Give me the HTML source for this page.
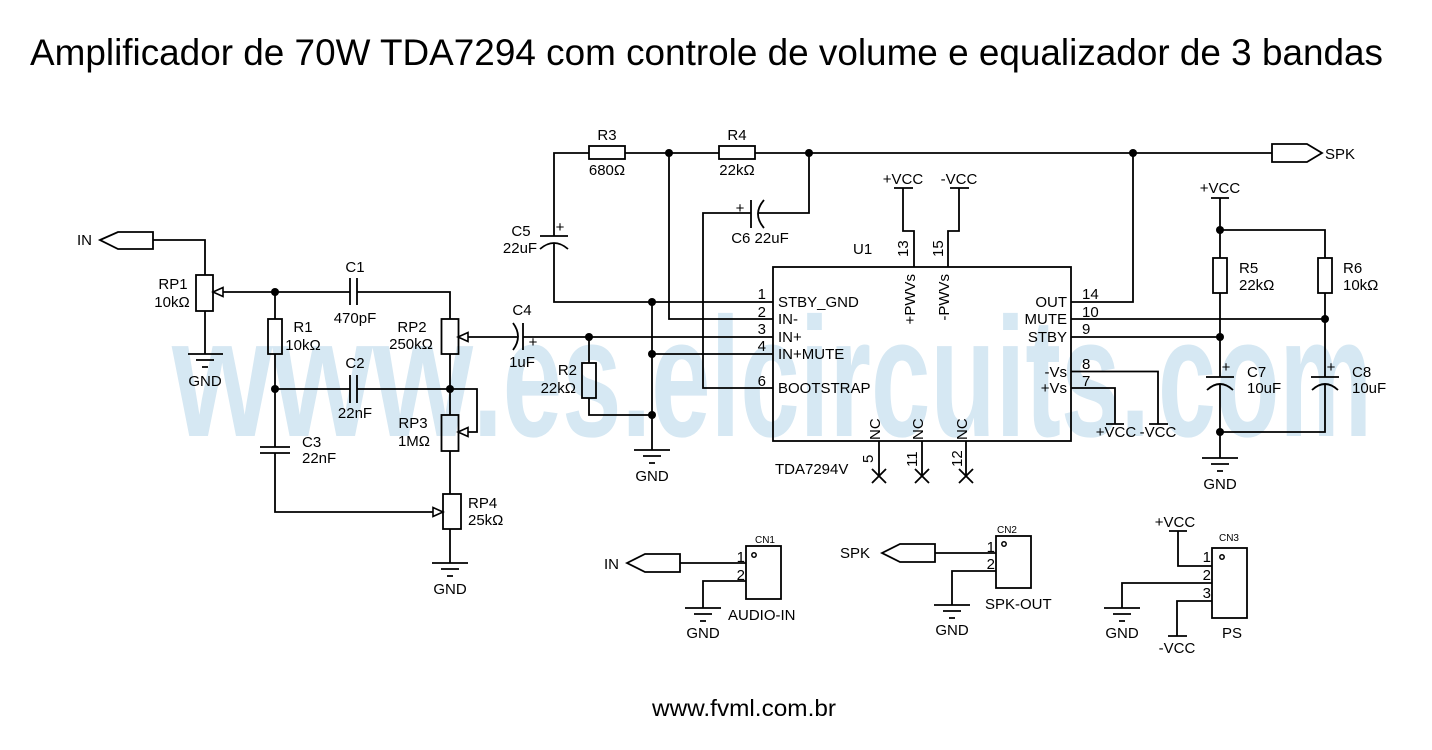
<!DOCTYPE html>
<html><head><meta charset="utf-8"><style>
html,body{margin:0;padding:0;background:#fff;}
svg{display:block;}
</style></head><body>
<svg width="1432" height="750" viewBox="0 0 1432 750" xmlns="http://www.w3.org/2000/svg" font-family="'Liberation Sans', Arial, sans-serif">
<rect width="1432" height="750" fill="#fff"/>
<!-- watermark -->
<g fill="#d6e8f3" font-weight="bold" font-size="170">
<text x="172" y="436" textLength="301" lengthAdjust="spacingAndGlyphs">www</text>
<text x="473" y="436" textLength="677" lengthAdjust="spacingAndGlyphs">.es.elcircuits.</text>
<text x="1158" y="436" textLength="214" lengthAdjust="spacingAndGlyphs">com</text>
</g>
<!-- title -->
<text x="30" y="65" font-size="37" fill="#000" textLength="1353" lengthAdjust="spacingAndGlyphs">Amplificador de 70W TDA7294 com controle de volume e equalizador de 3 bandas</text>

<g stroke="#000" stroke-width="1.8" fill="none">
<!-- left IN connector -->
<polygon points="100,240 118,232 153,232 153,249 118,249"/>
<path d="M153,240 H205 V275"/>
<rect x="196" y="275" width="17" height="36"/>
<path d="M205,311 V354"/>
<path d="M188,354 H223 M196,360 H214 M202,367 H208"/>
<path d="M223,292 H350"/>
<path d="M350,278 V305 M357,278 V305"/>
<path d="M357,292 H450 V319"/>
<rect x="441.5" y="319" width="17" height="35"/>
<path d="M275,292 V319"/>
<rect x="268" y="319" width="14" height="35"/>
<path d="M275,354 V447"/>
<path d="M260,447 H290 M260,453 H290"/>
<path d="M275,453 V512 H433"/>
<path d="M275,389 H350 M350,375 V403 M357,375 V403 M357,389 H477 V432 H468"/>
<path d="M450,354 V415"/>
<rect x="441.5" y="415" width="17" height="36"/>
<path d="M450,451 V494"/>
<rect x="443" y="494" width="18" height="35"/>
<path d="M450,529 V563"/>
<path d="M432,563 H468 M441,569 H459 M447,576 H453"/>
<!-- RP2 wiper / C4 -->
<path d="M468,337 H517"/>
<path d="M513,323 Q523,336.5 513,350"/>
<path d="M523,323 V350"/>
<path d="M523,337 H773"/>
<!-- R2 -->
<path d="M589,337 V363"/>
<rect x="582" y="363" width="14" height="35"/>
<path d="M589,398 V415 H652"/>
<path d="M652,302 V450"/>
<path d="M634,450 H670 M643,456 H661 M649,463 H655"/>
<!-- C5 -->
<path d="M554,236 V153 H589"/>
<path d="M540,236 H568"/>
<path d="M540,249 Q554,237 568,249"/>
<path d="M554,243 V302 H773"/>
<!-- R3 R4 -->
<rect x="589" y="146" width="36" height="13"/>
<path d="M625,153 H719"/>
<rect x="719" y="146" width="36" height="13"/>
<path d="M755,153 H1272"/>
<path d="M669,153 V319 H773"/>
<!-- C6 -->
<path d="M809,153 V213 H758"/>
<path d="M764,200 Q752,214 764,228"/>
<path d="M751,200 V228"/>
<path d="M751,213 H703 V388 H773"/>
<path d="M652,354 H773"/>
<!-- IC -->
<rect x="773" y="267" width="298" height="174"/>
<path d="M914,267 V231 H903 V188 M894,188 H913"/>
<path d="M948,267 V231 H959 V188 M950,188 H969"/>
<path d="M879,441 V476 M872,469 L886,483 M886,469 L872,483"/>
<path d="M922,441 V476 M915,469 L929,483 M929,469 L915,483"/>
<path d="M966,441 V476 M959,469 L973,483 M973,469 L959,483"/>
<!-- right side -->
<path d="M1071,302 H1133 V153"/>
<path d="M1071,319 H1325"/>
<path d="M1071,337 H1220"/>
<path d="M1071,371.5 H1158 V424 M1149,424 H1168"/>
<path d="M1071,388 H1115 V424 M1106,424 H1124"/>
<path d="M1211,198 H1229 M1220,198 V258"/>
<rect x="1213" y="258" width="14" height="35"/>
<path d="M1220,293 V377 M1206,377 H1234"/>
<path d="M1207,390 Q1220,378 1233,390"/>
<path d="M1220,384 V458"/>
<path d="M1220,230 H1325 V258"/>
<rect x="1318" y="258" width="14" height="35"/>
<path d="M1325,293 V377 M1311,377 H1339"/>
<path d="M1312,390 Q1325,378 1338,390"/>
<path d="M1325,384 V432 H1220"/>
<path d="M1202,458 H1238 M1211,464 H1229 M1217,471 H1223"/>
<polygon points="1272,144 1307,144 1322,153 1307,162 1272,162"/>
<!-- CN1 -->
<polygon points="627,563 645,554 680,554 680,572 645,572"/>
<path d="M680,563 H746"/>
<rect x="746" y="546" width="35" height="53"/>
<circle cx="754" cy="555" r="2.2" stroke-width="1.5"/>
<path d="M746,581 H703 V608"/>
<path d="M685,608 H721 M694,614 H712 M700,621 H706"/>
<!-- CN2 -->
<polygon points="882,553 900,544 935,544 935,562 900,562"/>
<path d="M935,553 H996"/>
<rect x="996" y="536" width="35" height="52"/>
<circle cx="1004" cy="544" r="2.2" stroke-width="1.5"/>
<path d="M996,571 H952 V605"/>
<path d="M934,605 H970 M943,611 H961 M949,618 H955"/>
<!-- CN3 -->
<path d="M1169,531 H1187 M1178,531 V566 H1212"/>
<rect x="1212" y="548" width="35" height="70"/>
<circle cx="1222" cy="557" r="2.2" stroke-width="1.5"/>
<path d="M1212,583 H1122 V608"/>
<path d="M1104,608 H1140 M1113,614 H1131 M1119,621 H1125"/>
<path d="M1212,601 H1177 V636 M1168,636 H1187"/>
</g>
<!-- wiper arrows -->
<g stroke="#000" stroke-width="1.6" fill="#fff">
<polygon points="213,292 223,287.5 223,296.5"/>
<polygon points="458,337 468,332.5 468,341.5"/>
<polygon points="458,432 468,427.5 468,436.5"/>
<polygon points="443,512 433,507.5 433,516.5"/>
</g>
<!-- junctions -->
<g fill="#000">
<circle cx="275" cy="292" r="4"/><circle cx="275" cy="389" r="4"/><circle cx="450" cy="389" r="4"/>
<circle cx="589" cy="337" r="4"/><circle cx="652" cy="302" r="4"/><circle cx="652" cy="354" r="4"/>
<circle cx="652" cy="415" r="4"/><circle cx="669" cy="153" r="4"/><circle cx="809" cy="153" r="4"/>
<circle cx="1133" cy="153" r="4"/><circle cx="1220" cy="230" r="4"/><circle cx="1325" cy="319" r="4"/>
<circle cx="1220" cy="337" r="4"/><circle cx="1220" cy="432" r="4"/>
</g>
<!-- labels -->
<g fill="#000" font-size="15">
<text x="77" y="245">IN</text>
<text x="173" y="289" text-anchor="middle">RP1</text>
<text x="172" y="307" text-anchor="middle">10kΩ</text>
<text x="205" y="386" text-anchor="middle">GND</text>
<text x="355" y="272" text-anchor="middle">C1</text>
<text x="355" y="323" text-anchor="middle">470pF</text>
<text x="303" y="332" text-anchor="middle">R1</text>
<text x="303" y="350" text-anchor="middle">10kΩ</text>
<text x="412" y="332" text-anchor="middle">RP2</text>
<text x="411" y="349" text-anchor="middle">250kΩ</text>
<text x="355" y="368" text-anchor="middle">C2</text>
<text x="355" y="418" text-anchor="middle">22nF</text>
<text x="413" y="428" text-anchor="middle">RP3</text>
<text x="414" y="446" text-anchor="middle">1MΩ</text>
<text x="302" y="447">C3</text>
<text x="302" y="463">22nF</text>
<text x="468" y="508">RP4</text>
<text x="468" y="525">25kΩ</text>
<text x="450" y="594" text-anchor="middle">GND</text>
<text x="522" y="315" text-anchor="middle">C4</text>
<text x="522" y="367" text-anchor="middle">1uF</text>
<text x="533" y="347" text-anchor="middle">+</text>
<text x="577" y="375" text-anchor="end">R2</text>
<text x="576" y="393" text-anchor="end">22kΩ</text>
<text x="652" y="481" text-anchor="middle">GND</text>
<text x="521" y="236" text-anchor="middle">C5</text>
<text x="520" y="253" text-anchor="middle">22uF</text>
<text x="560" y="232" text-anchor="middle">+</text>
<text x="607" y="140" text-anchor="middle">R3</text>
<text x="607" y="175" text-anchor="middle">680Ω</text>
<text x="737" y="140" text-anchor="middle">R4</text>
<text x="737" y="175" text-anchor="middle">22kΩ</text>
<text x="740" y="213" text-anchor="middle">+</text>
<text x="760" y="243" text-anchor="middle">C6 22uF</text>
<text x="853" y="254">U1</text>
<text x="903" y="184" text-anchor="middle">+VCC</text>
<text x="959" y="184" text-anchor="middle">-VCC</text>
<g text-anchor="end">
<text x="766" y="299">1</text><text x="766" y="317">2</text><text x="766" y="334">3</text>
<text x="766" y="351">4</text><text x="766" y="386">6</text>
<text x="1067" y="307">OUT</text><text x="1067" y="324">MUTE</text><text x="1067" y="342">STBY</text>
<text x="1067" y="377">-Vs</text><text x="1067" y="393">+Vs</text>
</g>
<text x="778" y="307">STBY_GND</text>
<text x="778" y="324">IN-</text>
<text x="778" y="342">IN+</text>
<text x="778" y="359">IN+MUTE</text>
<text x="778" y="393">BOOTSTRAP</text>
<text x="1082" y="299">14</text><text x="1082" y="317">10</text><text x="1082" y="334">9</text>
<text x="1082" y="369">8</text><text x="1082" y="386">7</text>
<text transform="translate(908,257) rotate(-90)">13</text>
<text transform="translate(943,257) rotate(-90)">15</text>
<text transform="translate(915,274) rotate(-90)" text-anchor="end">+PWVs</text>
<text transform="translate(949,274) rotate(-90)" text-anchor="end">-PWVs</text>
<text transform="translate(880,440) rotate(-90)">NC</text>
<text transform="translate(923,440) rotate(-90)">NC</text>
<text transform="translate(967,440) rotate(-90)">NC</text>
<text transform="translate(873,463) rotate(-90)">5</text>
<text transform="translate(917,467) rotate(-90)">11</text>
<text transform="translate(962,467) rotate(-90)">12</text>
<text x="775" y="474">TDA7294V</text>
<text x="1116" y="437" text-anchor="middle">+VCC</text>
<text x="1158" y="437" text-anchor="middle">-VCC</text>
<text x="1220" y="193" text-anchor="middle">+VCC</text>
<text x="1239" y="273">R5</text><text x="1239" y="290">22kΩ</text>
<text x="1343" y="273">R6</text><text x="1343" y="290">10kΩ</text>
<text x="1226" y="372" text-anchor="middle">+</text>
<text x="1247" y="377">C7</text><text x="1247" y="393">10uF</text>
<text x="1331" y="372" text-anchor="middle">+</text>
<text x="1352" y="377">C8</text><text x="1352" y="393">10uF</text>
<text x="1220" y="489" text-anchor="middle">GND</text>
<text x="1325" y="159">SPK</text>
<!-- bottom connectors -->
<text x="604" y="569">IN</text>
<text x="765" y="543" text-anchor="middle" font-size="10">CN1</text>
<text x="745" y="562" text-anchor="end">1</text>
<text x="745" y="580" text-anchor="end">2</text>
<text x="703" y="638" text-anchor="middle">GND</text>
<text x="728" y="620">AUDIO-IN</text>
<text x="840" y="558">SPK</text>
<text x="1007" y="533" text-anchor="middle" font-size="10">CN2</text>
<text x="995" y="552" text-anchor="end">1</text>
<text x="995" y="569" text-anchor="end">2</text>
<text x="952" y="635" text-anchor="middle">GND</text>
<text x="985" y="609">SPK-OUT</text>
<text x="1175" y="527" text-anchor="middle">+VCC</text>
<text x="1229" y="541" text-anchor="middle" font-size="10">CN3</text>
<text x="1211" y="562" text-anchor="end">1</text>
<text x="1211" y="580" text-anchor="end">2</text>
<text x="1211" y="598" text-anchor="end">3</text>
<text x="1122" y="638" text-anchor="middle">GND</text>
<text x="1177" y="653" text-anchor="middle">-VCC</text>
<text x="1222" y="638">PS</text>
</g>
<text x="652" y="716" font-size="23" fill="#000" textLength="184" lengthAdjust="spacingAndGlyphs">www.fvml.com.br</text>
</svg>
</body></html>
